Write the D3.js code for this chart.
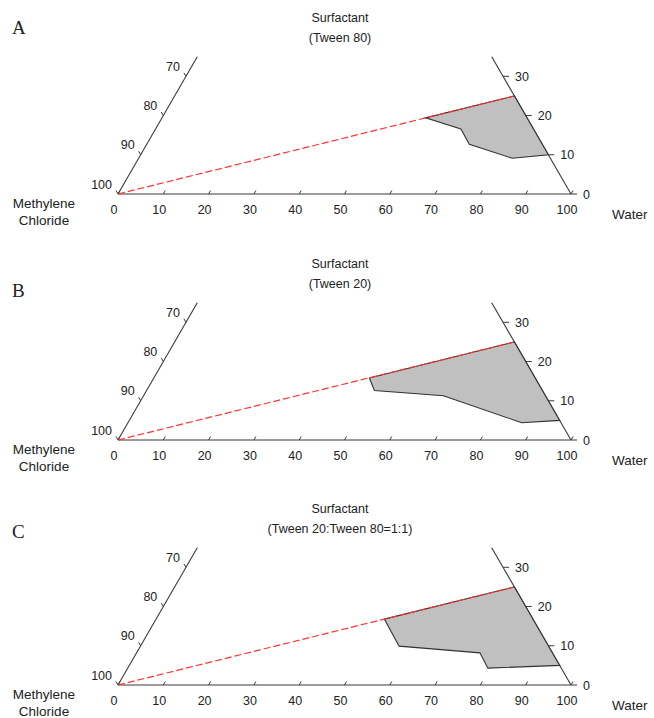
<!DOCTYPE html>
<html>
<head>
<meta charset="utf-8">
<script src="https://cdn.jsdelivr.net/npm/d3@7"></script>
<style>
  body { margin: 0; background: #fff; }
  svg text { font-family: "Liberation Sans", Arial, sans-serif; fill: #222; }
  .letter { font-family: "Liberation Serif", "Times New Roman", serif !important; }
</style>
</head>
<body>
<div id="vis-container"></div>
<script>
// tick values on the three sides of the ternary diagram
var waterTicks = [0, 10, 20, 30, 40, 50, 60, 70, 80, 90, 100];
var oilTicks = [100, 90, 80, 70];
var surfTicks = [0, 10, 20, 30];

var panelLetters = ["A", "B", "C"];
var surfactantNames = ["(Tween 80)", "(Tween 20)", "(Tween 20:Tween 80=1:1)"];

// dilution line end (surfactant : water = 25 : 75, no oil)
var dilutionWater = [75, 75, 75];
var dilutionSurf = [25, 25, 25];

// microemulsion region boundaries (% water, % surfactant; oil = rest)
var regionAWater = [58.2, 75, 90, 82.5, 71.2, 67.4];
var regionASurf  = [19.4, 25, 10, 9.1, 12.7, 16.6];
var regionBWater = [47.6, 75, 95, 86.9, 66.2, 50.3];
var regionBSurf  = [15.8, 25, 5, 4.4, 11.3, 12.6];
var regionCWater = [50.4, 75, 95, 79.5, 75.8, 57.1];
var regionCSurf  = [16.8, 25, 5, 4.3, 8.2, 9.9];

var regions = [
  { water: regionAWater, surf: regionASurf },
  { water: regionBWater, surf: regionBSurf },
  { water: regionCWater, surf: regionCSurf }
];

// layout
var width = 654, height = 718;
var x0 = 118, side = 453;
var panelBase = [194, 440, 685];
var letterY = [34, 297, 538];
var axisTop = 35; // sides cut at 35 % surfactant

var svg = d3.select("#vis-container")
  .append("svg")
    .attr("width", width)
    .attr("height", height);

var xScale = d3.scaleLinear().domain([0, 100]).range([x0, x0 + side]);
var yScale = d3.scaleLinear().domain([0, 100]).range([0, -side * Math.sqrt(3) / 2]);

// water %, surfactant % -> screen point
function project(w, s) {
  return [xScale(w + s / 2), yScale(s)];
}

var lineColor = "#3a3a3a";

panelBase.forEach(function (base, p) {
  var g = svg.append("g")
    .attr("transform", "translate(0," + base + ")");

  // sides
  var sides = [
    [project(0, 0), project(100, 0)],
    [project(0, 0), project(0, axisTop)],
    [project(100, 0), project(100 - axisTop, axisTop)]
  ];
  g.selectAll(".side").data(sides).enter()
    .append("line")
      .attr("class", "side")
      .attr("x1", d => d[0][0]).attr("y1", d => d[0][1])
      .attr("x2", d => d[1][0]).attr("y2", d => d[1][1])
      .attr("stroke", lineColor)
      .attr("stroke-width", 1.1);

  // bottom axis: water
  waterTicks.forEach(function (t) {
    var pt = project(t, 0);
    g.append("line")
      .attr("x1", pt[0]).attr("y1", pt[1])
      .attr("x2", pt[0] + 2).attr("y2", pt[1] - 3.5)
      .attr("stroke", lineColor);
    g.append("text")
      .attr("x", pt[0] - 4).attr("y", pt[1] + 20)
      .attr("text-anchor", "middle")
      .style("font-size", "12.5px")
      .text(t);
  });

  // left axis: methylene chloride
  oilTicks.forEach(function (t) {
    var pt = project(0, 100 - t);
    g.append("line")
      .attr("x1", pt[0]).attr("y1", pt[1])
      .attr("x2", pt[0] - 2).attr("y2", pt[1] - 3.5)
      .attr("stroke", lineColor);
    g.append("text")
      .attr("x", pt[0] - 6).attr("y", pt[1] - 5.5)
      .attr("text-anchor", "end")
      .style("font-size", "12.5px")
      .text(t);
  });

  // right axis: surfactant
  surfTicks.forEach(function (t) {
    var pt = project(100 - t, t);
    g.append("line")
      .attr("x1", pt[0]).attr("y1", pt[1])
      .attr("x2", pt[0] + 6).attr("y2", pt[1])
      .attr("stroke", lineColor);
    g.append("text")
      .attr("x", pt[0] + 12).attr("y", pt[1] + 4.5)
      .attr("text-anchor", "start")
      .style("font-size", "12.5px")
      .text(t);
  });

  // microemulsion region
  var reg = regions[p];
  var pts = reg.water.map(function (w, i) { return project(w, reg.surf[i]); });
  g.append("path")
    .attr("d", d3.line()(pts) + "Z")
    .attr("fill", "#c0c0c0")
    .attr("stroke", "#333")
    .attr("stroke-width", 1.1);

  // dilution line
  var a = project(0, 0), b = project(dilutionWater[p], dilutionSurf[p]);
  g.append("line")
    .attr("x1", a[0]).attr("y1", a[1])
    .attr("x2", b[0]).attr("y2", b[1])
    .attr("stroke", "#ff3333")
    .attr("stroke-width", 1.2)
    .attr("stroke-dasharray", "7,3");

  // corner labels
  g.append("text")
    .attr("x", 612).attr("y", 25)
    .style("font-size", "13.5px")
    .text("Water");
  g.append("text")
    .attr("x", 44).attr("y", 14)
    .attr("text-anchor", "middle")
    .style("font-size", "13.5px")
    .text("Methylene");
  g.append("text")
    .attr("x", 44).attr("y", 31)
    .attr("text-anchor", "middle")
    .style("font-size", "13.5px")
    .text("Chloride");

  // title
  g.append("text")
    .attr("x", 340).attr("y", -172)
    .attr("text-anchor", "middle")
    .style("font-size", "12.5px")
    .text("Surfactant");
  g.append("text")
    .attr("x", 340).attr("y", -152)
    .attr("text-anchor", "middle")
    .style("font-size", "12.5px")
    .text(surfactantNames[p]);

  svg.append("text")
    .attr("class", "letter")
    .attr("x", 12).attr("y", letterY[p])
    .style("font-size", "19px")
    .text(panelLetters[p]);
});
</script>
</body>
</html>
